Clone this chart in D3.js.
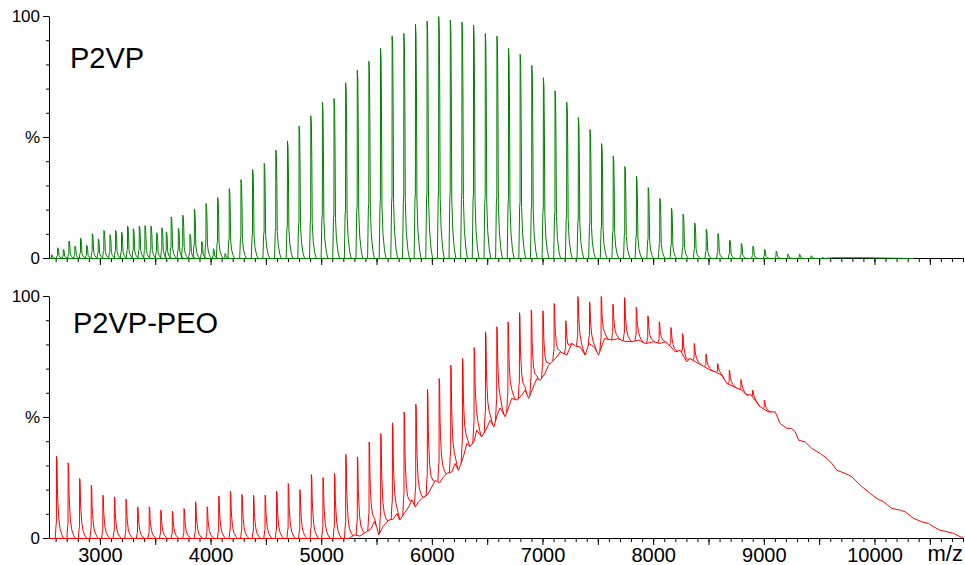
<!DOCTYPE html>
<html>
<head>
<meta charset="utf-8">
<script src="https://cdn.jsdelivr.net/npm/d3@7"></script>
<style>
  body { margin: 0; background: #fff; }
  svg { display: block; font-family: "Liberation Sans", Arial, sans-serif; }
</style>
</head>
<body>
<div id="chart"></div>
<script>
// m/z range shared by both panels
const mzDomain = [2540, 10800];

// y tick labels (value -> text)
const yTickValues = [0, 50, 100];
const yTickLabels = ["0", "%", "100"];
const xLabelValues = [3000, 4000, 5000, 6000, 7000, 8000, 9000, 10000];

// P2VP: peak positions (m/z) and peak heights (%)
const p2vpPeakMz = [2563, 2618, 2669, 2720, 2774, 2825, 2880, 2931, 2985, 3036,
  3091, 3142, 3196, 3250, 3302, 3356, 3407, 3461, 3513, 3560, 3600,
  3644, 3709, 3749, 3814, 3854, 3920, 3959, 4025, 4064, 4130, 4169,
  4275, 4380, 4485, 4590, 4695, 4800, 4906, 5011, 5116, 5221, 5326, 5431, 5536, 5641,
  5747, 5852, 5957, 6062, 6167, 6272, 6377, 6483, 6588, 6693, 6798, 6903, 7008, 7113,
  7219, 7324, 7429, 7534, 7639, 7744, 7849, 7955, 8060, 8165, 8270, 8375, 8480, 8585,
  8691, 8796, 8901, 9006, 9111, 9216, 9321, 9427, 9532];
const p2vpPeakPct = [1.5, 4.4, 3.7, 7.2, 5.1, 8.4, 5.4, 10.2, 8.1, 11.6,
  9.8, 11.6, 10.9, 13.4, 12.3, 13.4, 13.6, 13.4, 10.6, 12.7, 11.0,
  17.2, 12.5, 17.9, 10, 20.4, 7, 22.7, 4, 25.2, 2, 28.9,
  32.6, 36.8, 39.3, 44.8, 48.6, 54.7, 59.0, 64.5, 66.1, 72.6, 77.8, 81.5, 86.8, 92.0,
  93.0, 96.8, 98.1, 100, 98.5, 97.7, 96.4, 93.0, 91.9, 86.8, 84.4, 79.8, 74.7, 69.3,
  64.6, 58.3, 53.3, 47.5, 42.4, 38.0, 34.0, 29.3, 24.8, 20.8, 18.3, 14.7, 12.1, 10.3,
  7.6, 6.2, 5.1, 3.7, 3.0, 1.8, 1.8, 1.1, 0.4];
const p2vpBaseMz = [2545, 9560, 9620, 9900, 10350];
const p2vpBasePct = [0, 0, 0.3, 0.3, 0];

// P2VP-PEO: resolved peaks on top of a broad unresolved hump
const peoPeakMz = [2608, 2713, 2817, 2922, 3027, 3131, 3236, 3341, 3446, 3550,
  3655, 3760, 3864, 3969, 4074, 4179, 4283, 4388, 4493, 4597,
  4702, 4807, 4911, 5016, 5120, 5222, 5327, 5433, 5538, 5644,
  5749, 5855, 5960, 6066, 6171, 6277, 6382, 6485, 6587, 6688,
  6792, 6898, 7003, 7105, 7210, 7319, 7425, 7530, 7636, 7741,
  7847, 7952, 8055, 8160, 8266, 8371, 8477, 8582, 8688, 8793, 8899, 9004];
const peoPeakPct = [34.0, 31.3, 24.8, 22.0, 17.9, 17.2, 16.3, 13.1, 13.1, 11.7,
  11.3, 12.4, 15.2, 13.1, 17.6, 19.6, 18.2, 17.9, 17.9, 19.6,
  22.7, 20.2, 26.4, 25.2, 26.9, 34.8, 33.7, 39.9, 43.4, 47.8,
  52.3, 55.5, 61.6, 66.1, 71.6, 74.4, 78.9, 85.4, 87.5, 89.5,
  93.3, 94.4, 94.1, 97.1, 90, 100, 97.8, 100, 96.8, 99.6,
  95.6, 92.0, 89.5, 87.2, 84.7, 80.6, 76.2, 72.3, 69.6, 65.7, 61.3, 57.2];
const peoBaseMz = [2545, 5250, 5300, 5350, 5400, 5450, 5480, 5500, 5520, 5560,
  5610, 5650, 5685, 5710, 5760, 5790, 5820, 5850, 5880, 5920,
  5960, 6000, 6030, 6070, 6105, 6140, 6180, 6210, 6240, 6280,
  6316, 6345, 6380, 6406, 6450, 6490, 6527, 6560, 6590, 6617,
  6662, 6700, 6722, 6770, 6810, 6843, 6875, 6920, 6949, 6980,
  7020, 7054, 7100, 7130, 7160, 7220, 7265, 7300, 7340, 7386,
  7420, 7470, 7506, 7560, 7627, 7680, 7740, 7808, 7870, 7930,
  8003, 8060, 8110, 8160, 8200, 8244, 8304, 8330, 8410, 8440,
  8515, 8560, 8620, 8666, 8700, 8740, 8800, 8847, 8880, 8920,
  8967, 9043, 9103, 9148, 9208, 9250, 9284, 9315, 9374, 9434,
  9510, 9570, 9615, 9660, 9736, 9796, 9872, 9962, 10022, 10082,
  10158, 10233, 10278, 10354, 10429, 10489, 10535, 10595, 10655, 10715,
  10776, 10800];
const peoBasePct = [0, 0, 1.5, 1, 2.5, 4, 7, 5, 1.5, 5,
  7.6, 8, 10.3, 7.6, 11, 13, 16, 13, 15.2, 17,
  18, 21.3, 24, 23, 25.5, 27, 27.5, 31, 28.2, 33,
  39.3, 37.9, 40, 44.8, 42, 45, 48.9, 46.1, 51, 54,
  50.3, 55, 57.9, 57.2, 59, 61.3, 57.9, 63, 66.1, 65.4,
  68, 71.6, 73.7, 75, 77.1, 75.8, 80.6, 79.5, 79.2, 75.8,
  80.6, 79, 75.8, 82.6, 82, 82.6, 81.5, 81.3, 82, 80.5,
  81.3, 80.6, 81.3, 79.2, 77.1, 77.8, 73, 74.4, 72.3, 71.6,
  69.6, 68.9, 67.5, 64, 63.4, 62.5, 61.3, 59.2, 59.5, 57.2,
  54.4, 52.3, 52.3, 47.5, 45.5, 45.5, 44.1, 40.6, 39.9, 37.2,
  35.1, 33.1, 31, 28.2, 26.9, 25.5, 22, 18.6, 16.5, 15.2,
  12.4, 11.7, 11, 8.3, 6.9, 6.2, 4.8, 3.4, 2.8, 2.1,
  0.7, 0.5];

// peak shape: [m/z offset, fraction of peak height above base]
const sharpShape = [[-12, 0], [-5, 0.25], [-1, 0.28], [0, 1], [5, 0.95], [9, 0.7], [13, 0.25], [22, 0.12], [36, 0.04], [50, 0]];
const tailShape = [[-12, 0], [-5, 0.15], [-1, 0.2], [0, 1], [4, 0.95], [8, 0.6], [12, 0.45], [20, 0.25], [32, 0.12], [50, 0.04], [65, 0]];

const width = 965, height = 565;

const svg = d3.select("#chart")
  .append("svg")
  .attr("width", width)
  .attr("height", height);

const x = d3.scaleLinear().domain(mzDomain).range([49, 963]);

function drawPanel(p) {
  const y = d3.scaleLinear().domain([0, 100]).range([p.bottom, p.top]);
  const base = d3.scaleLinear().domain(p.baseMz).range(p.basePct).clamp(true);
  const line = d3.line().x((d) => x(d[0])).y((d) => y(d[1]));

  // y axis: minor ticks every 10 %, labelled ticks at 0 / 50 / 100
  svg.append("g")
    .attr("transform", "translate(49,0)")
    .call(d3.axisLeft(y).tickValues(d3.range(0, 101, 10)).tickSize(3).tickSizeOuter(0).tickFormat(""))
    .call((g) => g.select(".domain").remove());
  const ya = svg.append("g")
    .attr("transform", "translate(49,0)")
    .call(d3.axisLeft(y).tickValues(yTickValues).tickSize(6).tickSizeOuter(0).tickPadding(3)
      .tickFormat((d, i) => yTickLabels[i]));
  ya.selectAll("text").attr("font-size", 17).attr("fill", "#000").attr("font-family", null);

  // x axis: minor ticks every 100, longer every 500
  svg.append("g")
    .attr("transform", `translate(0,${p.bottom})`)
    .call(d3.axisBottom(x).tickValues(d3.range(2600, 10801, 100)).tickSize(4).tickSizeOuter(0).tickFormat(""))
    .call((g) => g.select(".domain").remove());
  const xa = svg.append("g")
    .attr("transform", `translate(0,${p.bottom})`)
    .call(d3.axisBottom(x).tickValues(d3.range(3000, 10801, 500)).tickSize(7).tickSizeOuter(0).tickPadding(3)
      .tickFormat((d) => (p.showLabels && xLabelValues.includes(d) ? String(d) : "")));
  xa.selectAll("text").attr("font-size", 20).attr("fill", "#000").attr("font-family", null);

  // spectrum
  const spec = svg.append("g")
    .attr("transform", "translate(0,0.5)")
    .attr("fill", "none")
    .attr("stroke", p.color)
    .attr("stroke-width", 1);

  spec.append("path")
    .attr("d", line(p.baseMz.map((m, i) => [m, p.basePct[i]])));

  const peaks = p.peakMz.map((m, i) => ({ m, pct: p.peakPct[i] }));
  spec.selectAll("path.peak")
    .data(peaks)
    .join("path")
    .attr("class", "peak")
    .attr("d", (d) => {
      const h = Math.max(0, d.pct - base(d.m));
      return line(p.shape.map(([dm, f]) => [d.m + dm, base(d.m + dm) + h * f]));
    });

  svg.append("text")
    .attr("x", p.titleX)
    .attr("y", p.titleY)
    .attr("font-size", 29)
    .attr("fill", "#000")
    .text(p.title);
}

drawPanel({
  title: "P2VP", titleX: 70, titleY: 68,
  top: 16, bottom: 258, color: "#008000",
  peakMz: p2vpPeakMz, peakPct: p2vpPeakPct,
  baseMz: p2vpBaseMz, basePct: p2vpBasePct,
  shape: sharpShape, showLabels: false
});

drawPanel({
  title: "P2VP-PEO", titleX: 73, titleY: 333,
  top: 296, bottom: 538, color: "#ff0000",
  peakMz: peoPeakMz, peakPct: peoPeakPct,
  baseMz: peoBaseMz, basePct: peoBasePct,
  shape: tailShape, showLabels: true
});

svg.append("text")
  .attr("x", 963)
  .attr("y", 561)
  .attr("text-anchor", "end")
  .attr("font-size", 22)
  .attr("fill", "#000")
  .text("m/z");
</script>
</body>
</html>
